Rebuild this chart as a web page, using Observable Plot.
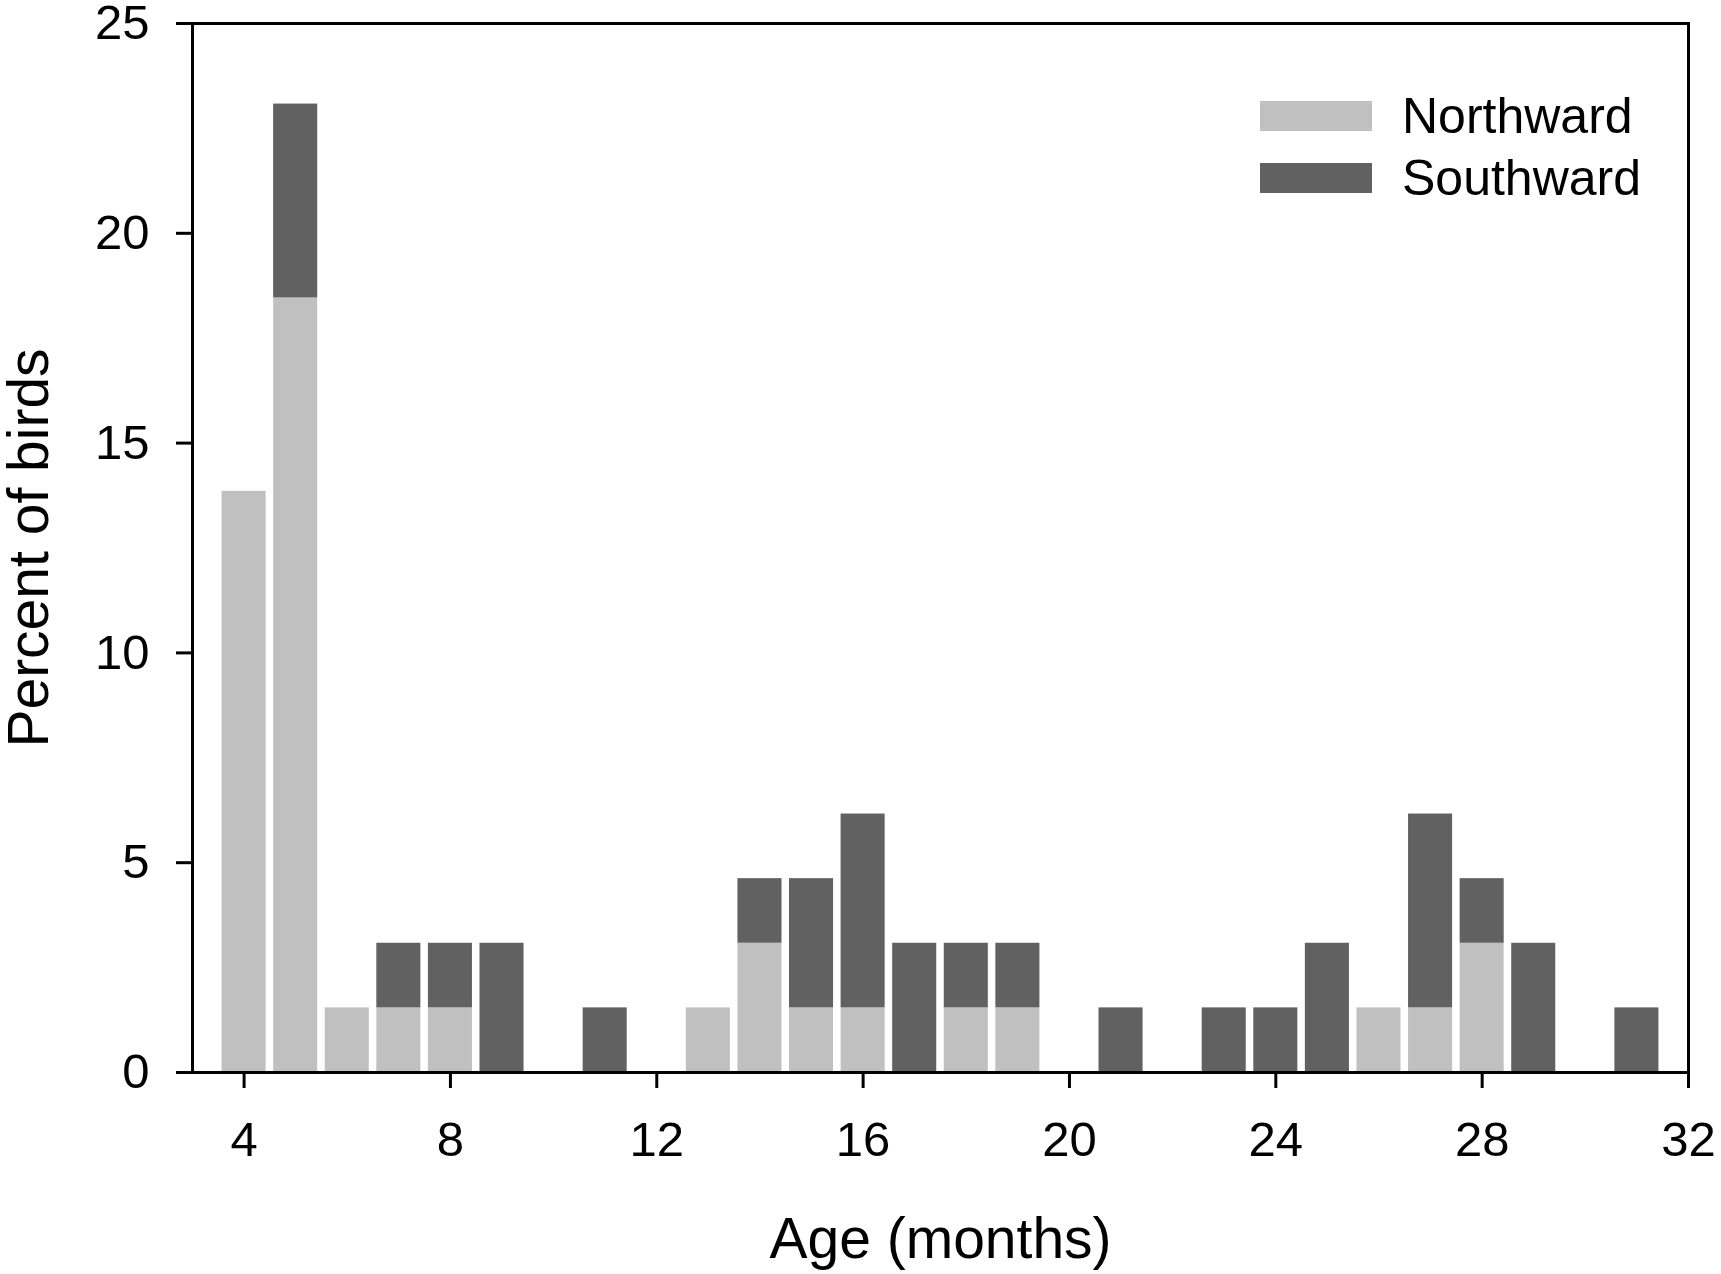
<!DOCTYPE html>
<html>
<head>
<meta charset="utf-8">
<script src="https://cdn.jsdelivr.net/npm/d3@7"></script>
<script src="https://cdn.jsdelivr.net/npm/@observablehq/plot@0.6"></script>
<style>
  html, body { margin: 0; padding: 0; background: #fff; }
  #wrap { position: relative; width: 1721px; height: 1274px; font-family: "Liberation Sans", Arial, sans-serif; }
  #legend { position: absolute; left: 1260px; top: 85px; }
  #legend .lg-swatches { margin: 0; min-height: 0; font-family: "Liberation Sans", Arial, sans-serif; font-size: 50px; color: #000; }
  #legend .lg-swatch { display: flex; align-items: center; height: 62px; margin: 0; padding: 0; line-height: normal; overflow: visible; }
  #legend .lg-swatch svg { margin-right: 30px; flex: none; }
</style>
</head>
<body>
<div id="wrap"><div id="chart"></div><div id="legend"></div></div>
<script>
// Data (percent of birds per age in months)
const months    = [4, 5, 6, 7, 8, 9, 10, 11, 12, 13, 14, 15, 16, 17, 18, 19, 20, 21, 22, 23, 24, 25, 26, 27, 28, 29, 30, 31];
const northward = [13.85, 18.46, 1.54, 1.54, 1.54, 0, 0, 0, 0, 1.54, 3.08, 1.54, 1.54, 0, 1.54, 1.54, 0, 0, 0, 0, 0, 0, 1.54, 1.54, 3.08, 0, 0, 0];
const southward = [0, 4.62, 0, 1.54, 1.54, 3.08, 0, 1.54, 0, 0, 1.54, 3.08, 4.62, 3.08, 1.54, 1.54, 0, 1.54, 0, 1.54, 1.54, 3.08, 0, 4.62, 1.54, 3.08, 0, 1.54];
const seriesNames = ["Northward", "Southward"];
const seriesColors = ["#c0c0c0", "#616161"];
const xTicks = [4, 8, 12, 16, 20, 24, 28, 32];
const yTicks = [0, 5, 10, 15, 20, 25];
const xLabel = "Age (months)";
const yLabel = "Percent of birds";

// Build stacked table
const rows = [];
months.forEach((m, i) => {
  let base = 0;
  [northward[i], southward[i]].forEach((v, k) => {
    if (v > 0) rows.push({month: m, dir: seriesNames[k], y1: base, y2: base + v});
    base += v;
  });
});

const half = 0.427;
const font = "Liberation Sans, Arial, sans-serif";

const chart = Plot.plot({
  width: 1721,
  height: 1274,
  marginLeft: 192,
  marginRight: 33,
  marginTop: 23,
  marginBottom: 202,
  style: {fontFamily: font, fontSize: "48px", color: "#000", background: "#fff"},
  x: {domain: [3, 32]},
  y: {domain: [0, 25]},
  color: {domain: seriesNames, range: seriesColors},
  marks: [
    Plot.rect(rows, {x1: d => d.month - half, x2: d => d.month + half, y1: "y1", y2: "y2", fill: "dir"}),
    Plot.frame({stroke: "#000", strokeWidth: 3}),
    Plot.axisX({ticks: xTicks, tickSize: 16, tickPadding: 33, strokeWidth: 3, fontSize: 49, label: null, tickFormat: d => String(d)}),
    Plot.axisY({ticks: yTicks, tickSize: 16, tickPadding: 27, strokeWidth: 3, fontSize: 49, label: null, tickFormat: d => String(d)}),
    Plot.text([xLabel], {frameAnchor: "bottom", lineAnchor: "middle", textAnchor: "middle", dy: 167, text: d => d, fontSize: 57, fill: "#000"}),
    Plot.text([yLabel], {frameAnchor: "left", lineAnchor: "middle", textAnchor: "middle", dx: -163, rotate: -90, text: d => d, fontSize: 57, fill: "#000"})
  ]
});
document.getElementById("chart").appendChild(chart);

const legend = Plot.legend({
  color: {domain: seriesNames, range: seriesColors},
  legend: "swatches",
  columns: 1,
  className: "lg",
  swatchWidth: 112,
  swatchHeight: 30
});
document.getElementById("legend").appendChild(legend);
</script>
</body>
</html>
